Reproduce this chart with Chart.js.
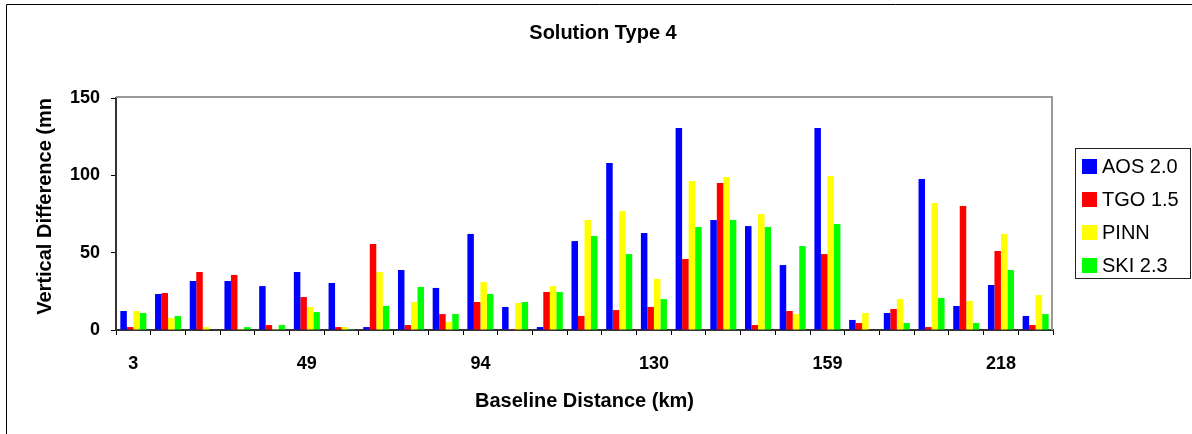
<!DOCTYPE html>
<html>
<head>
<meta charset="utf-8">
<script src="https://cdn.jsdelivr.net/npm/chart.js@4.4.0/dist/chart.umd.min.js"></script>
<style>
  html, body { margin: 0; padding: 0; background: #fff; overflow: hidden; }
  #chart { display: block; }
</style>
</head>
<body>
<canvas id="chart" width="1192" height="434"></canvas>
<script>
// --- DATA ---
const baselineKm = ['3', '', '', '', '', '49', '', '', '', '', '94', '', '', '', '',
                    '130', '', '', '', '', '159', '', '', '', '', '218', ''];
const seriesNames = ['AOS 2.0', 'TGO 1.5', 'PINN', 'SKI 2.3'];
const seriesColors = ['#0000ff', '#ff0000', '#ffff00', '#00ff00'];

const aos  = [12.3, 23.3, 31.7, 31.7, 28.4, 37.5, 30.4, 1.9, 38.8, 27.2, 62.1, 14.9, 1.9, 57.5,
              108, 62.7, 130.6, 71.1, 67.2, 42, 130.6, 6.5, 11, 97.6, 15.5, 29.1, 9.1];
const tgo  = [1.9, 23.9, 37.5, 35.6, 3.2, 21.3, 1.9, 55.6, 3.2, 10.3, 18.1, 0.6, 24.6, 9.1,
              12.9, 14.9, 45.9, 95, 3.2, 12.3, 49.1, 4.5, 13.6, 1.9, 80.2, 51.1, 3.2];
const pinn = [12.3, 7.8, 1.9, 0.6, 0.6, 14.9, 1.9, 37.5, 18.1, 5.2, 31, 17.5, 28.4, 71.1,
              76.9, 33, 96.3, 98.9, 75, 10.3, 99.6, 11, 20, 82.1, 18.8, 62.1, 22.6];
const ski  = [11, 9, 0, 1.9, 3.2, 11.6, 0.6, 15.5, 27.8, 10.3, 23.3, 18.1, 24.6, 60.8,
              49.1, 20, 66.6, 71.1, 66.6, 54.3, 68.5, 0, 4.5, 20.7, 4.5, 38.8, 10.3];

const yTicks = [0, 50, 100, 150];

const FONT = '"Liberation Sans", Arial, sans-serif';

// --- EXTRA DRAWING (frame, plot border, title, legend) ---
const decorations = {
    id: 'decorations',
    beforeDraw(chart) {
        const ctx = chart.ctx;
        ctx.save();
        ctx.fillStyle = '#fff';
        ctx.fillRect(0, 0, chart.width, chart.height);
        // outer frame, only left and top edges fall inside the canvas
        ctx.strokeStyle = '#000';
        ctx.lineWidth = 1;
        ctx.beginPath();
        ctx.moveTo(6.5, chart.height);
        ctx.lineTo(6.5, 4.5);
        ctx.lineTo(chart.width, 4.5);
        ctx.stroke();
        ctx.restore();
    },
    beforeDatasetsDraw(chart) {
        const a = chart.chartArea;
        const ctx = chart.ctx;
        ctx.save();
        ctx.strokeStyle = '#999';
        ctx.lineWidth = 2;
        ctx.beginPath();
        ctx.moveTo(a.left, a.top - 1);
        ctx.lineTo(a.right - 1, a.top - 1);
        ctx.lineTo(a.right - 1, a.bottom);
        ctx.stroke();
        ctx.restore();
    },
    afterDraw(chart) {
        const ctx = chart.ctx;
        ctx.save();
        ctx.fillStyle = '#000';
        ctx.font = 'bold 20px ' + FONT;
        ctx.textAlign = 'center';
        ctx.textBaseline = 'middle';
        ctx.fillText('Solution Type 4', 603, 33);

        // legend
        ctx.strokeStyle = '#222';
        ctx.lineWidth = 1;
        ctx.strokeRect(1075.5, 148.5, 115, 130);
        ctx.font = '20px ' + FONT;
        ctx.textAlign = 'left';
        chart.data.datasets.forEach((ds, i) => {
            const cy = 166.5 + i * 33;
            ctx.fillStyle = ds.backgroundColor;
            ctx.fillRect(1082, cy - 7.5, 15, 15);
            ctx.fillStyle = '#000';
            ctx.fillText(ds.label, 1102, cy + 1);
        });
        ctx.restore();
    }
};

// --- CHART ---
function buildChart() {
    const ctx = document.getElementById('chart').getContext('2d');
    const values = [aos, tgo, pinn, ski];
    new Chart(ctx, {
        type: 'bar',
        data: {
            labels: baselineKm,
            datasets: seriesNames.map((name, i) => ({
                label: name,
                data: values[i],
                backgroundColor: seriesColors[i],
                borderWidth: 0,
                categoryPercentage: 0.75,
                barPercentage: 1.0
            }))
        },
        options: {
            responsive: false,
            animation: false,
            layout: { padding: { left: 0, top: 98, right: 139, bottom: 0 } },
            plugins: {
                legend: { display: false },
                title: { display: false },
                tooltip: { enabled: false }
            },
            scales: {
                x: {
                    grid: { offset: true, drawOnChartArea: false, drawTicks: true, tickLength: 5, color: '#000' },
                    border: { color: '#333', width: 2 },
                    ticks: {
                        autoSkip: false, maxRotation: 0, padding: 18, color: '#000',
                        font: { family: FONT, size: 18, weight: 'bold' }
                    },
                    title: {
                        display: true, text: 'Baseline Distance (km)', color: '#000',
                        font: { family: FONT, size: 20, weight: 'bold' },
                        padding: { top: 0, bottom: 21 }
                    },
                    afterFit: s => { s.height = 104; }
                },
                y: {
                    min: 0, max: 150,
                    afterBuildTicks: s => { s.ticks = yTicks.map(v => ({ value: v })); },
                    grid: { drawOnChartArea: false, drawTicks: true, tickLength: 5, color: '#000' },
                    border: { color: '#333', width: 2 },
                    ticks: {
                        padding: 11, color: '#000',
                        font: { family: FONT, size: 18, weight: 'bold' }
                    },
                    title: {
                        display: true, text: 'Vertical Difference (mn', color: '#000', align: 'end',
                        font: { family: FONT, size: 20, weight: 'bold' },
                        padding: { top: 33, bottom: 0 }
                    },
                    afterFit: s => { s.width = 116; }
                }
            }
        },
        plugins: [decorations]
    });
}

window.onload = buildChart;
</script>
</body>
</html>
